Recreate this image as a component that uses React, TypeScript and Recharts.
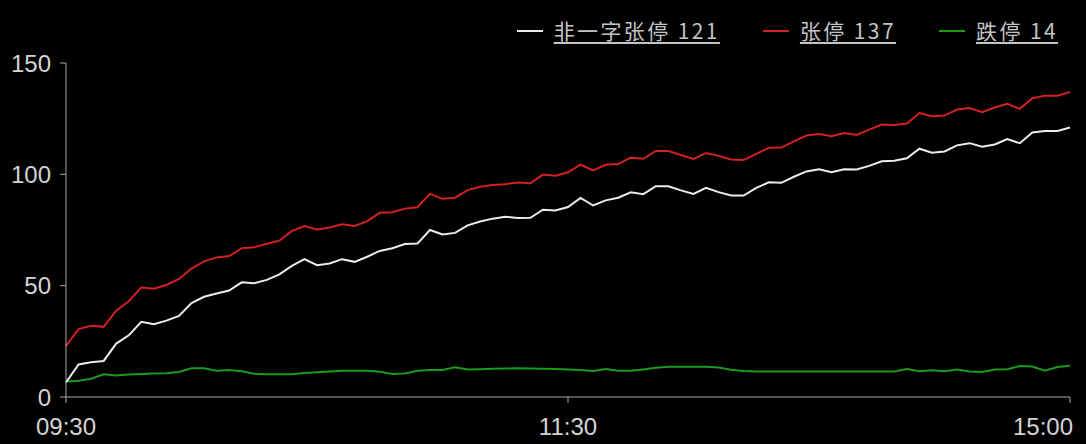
import { LineChart, Line, XAxis, YAxis } from 'recharts';

// sampled every 3 minutes of the trading session (0 = 09:30, 120 = 11:30/13:00, 240 = 15:00)
const STEP = 3;

const whiteValues = [
    6.5, 14.6, 15.6, 16.2, 24, 27.7, 33.8, 32.7, 34.3, 36.4,
    42.2, 45, 46.5, 47.8, 51.5, 51.1, 52.6, 55.1, 58.9, 61.9,
    59.2, 60, 61.9, 60.7, 63, 65.6, 66.8, 68.7, 68.9, 75,
    73, 73.7, 77.1, 78.8, 80.1, 80.9, 80.4, 80.5, 84.1, 83.8,
    85.3, 89.4, 86, 88.3, 89.5, 91.9, 91.1, 94.7, 94.6, 92.8,
    91.2, 93.9, 92, 90.5, 90.5, 93.9, 96.4, 96.2, 98.9, 101.3,
    102.3, 100.9, 102.3, 102.2, 103.8, 105.9, 106.1, 107.2, 111.5, 109.7,
    110.3, 113, 114, 112.4, 113.4, 115.8, 114, 118.8, 119.5, 119.5,
    121,
];

const redValues = [
    23, 30.5, 32, 31.5, 38.8, 43, 49.2, 48.6, 50.3, 53,
    57.7, 60.9, 62.7, 63.3, 66.8, 67.2, 68.8, 70.2, 74.6, 76.8,
    75.2, 76.1, 77.6, 76.8, 79, 82.7, 83, 84.6, 85.2, 91.2,
    89, 89.5, 92.9, 94.4, 95.2, 95.6, 96.3, 96, 99.9, 99.4,
    100.9, 104.4, 101.8, 104.3, 104.6, 107.5, 107, 110.5, 110.5, 108.7,
    106.9, 109.6, 108.3, 106.7, 106.4, 109.2, 111.9, 112, 114.8, 117.4,
    118.1, 117.1, 118.6, 117.7, 120.1, 122.4, 122.2, 122.8, 127.5, 126.1,
    126.4, 129.1, 129.8, 127.9, 130, 131.7, 129.4, 134.2, 135.3, 135.3,
    137,
];

const greenValues = [
    7, 7.3, 8.2, 10.2, 9.7, 10.1, 10.3, 10.5, 10.7, 11.2,
    12.9, 12.9, 11.8, 12.1, 11.6, 10.4, 10.2, 10.2, 10.2, 10.8,
    11.1, 11.5, 11.8, 11.8, 11.8, 11.3, 10.3, 10.6, 11.8, 12.1,
    12.1, 13.4, 12.4, 12.5, 12.7, 12.8, 12.9, 12.8, 12.7, 12.6,
    12.4, 12.1, 11.7, 12.6, 11.8, 11.8, 12.4, 13.1, 13.6, 13.6,
    13.6, 13.6, 13.2, 12.2, 11.7, 11.5, 11.5, 11.5, 11.5, 11.5,
    11.5, 11.4, 11.4, 11.4, 11.4, 11.4, 11.5, 12.6, 11.6, 12,
    11.6, 12.4, 11.5, 11.2, 12.3, 12.5, 13.9, 13.7, 11.8, 13.5,
    14,
];

const yTicks = [0, 50, 100, 150];
const xTicks = [0, 120, 240];

const legendItems = [
    { key: 'white', label: '非一字张停 121', color: '#ececec' },
    { key: 'red', label: '张停 137', color: '#d42020' },
    { key: 'green', label: '跌停 14', color: '#1c9a1c' },
];

const data = whiteValues.map((v, i) => ({
    m: i * STEP,
    white: v,
    red: redValues[i],
    green: greenValues[i],
}));

function timeLabel(m: number) {
    const t = m <= 120 ? 9 * 60 + 30 + m : 13 * 60 + (m - 120);
    const h = Math.floor(t / 60);
    const mm = t % 60;
    return `${String(h).padStart(2, '0')}:${String(mm).padStart(2, '0')}`;
}

const AXIS = '#a8a8a8';
const TEXT = '#d4d4d4';
const LATIN = '"Liberation Sans", Arial, sans-serif';

function TimeTick(props: any) {
    const { x, y, payload } = props;
    const last = payload.value === 240;
    return (
        <text
            x={last ? x + 3 : x}
            y={y}
            dy="0.71em"
            textAnchor={last ? 'end' : 'middle'}
            fill={TEXT}
            fontSize={24}
            fontFamily={LATIN}
        >
            {timeLabel(payload.value)}
        </text>
    );
}

export default function App() {
    return (
        <div style={{ position: 'fixed', left: 0, top: 0, width: 1086, height: 444, background: '#000' }}>
            <LineChart
                width={1086}
                height={444}
                data={data}
                margin={{ top: 63, right: 16, bottom: 0, left: 0 }}
            >
                <XAxis
                    dataKey="m"
                    type="number"
                    domain={[0, 240]}
                    ticks={xTicks}
                    height={47}
                    stroke={AXIS}
                    tickSize={6}
                    tickMargin={15}
                    tick={<TimeTick />}
                    interval={0}
                />
                <YAxis
                    domain={[0, 150]}
                    ticks={yTicks}
                    width={66}
                    stroke={AXIS}
                    tickSize={6}
                    tickMargin={9}
                    tick={{ fill: TEXT, fontSize: 24, fontFamily: LATIN }}
                    interval={0}
                />
                <Line dataKey="green" stroke="#1c9a1c" strokeWidth={2} dot={false} isAnimationActive={false} />
                <Line dataKey="white" stroke="#ececec" strokeWidth={2} dot={false} isAnimationActive={false} />
                <Line dataKey="red" stroke="#d42020" strokeWidth={2} dot={false} isAnimationActive={false} />
            </LineChart>

            <div
                style={{
                    position: 'absolute',
                    top: 20,
                    right: 28,
                    display: 'flex',
                    gap: 43,
                    alignItems: 'center',
                }}
            >
                {legendItems.map(item => (
                    <div key={item.key} style={{ display: 'flex', alignItems: 'center' }}>
                        <div style={{ width: 26, height: 2, background: item.color, marginRight: 11 }} />
                        <span
                            style={{
                                color: '#c4c4c4',
                                fontFamily: '"Noto Sans CJK SC", sans-serif',
                                fontSize: 21,
                                lineHeight: '21px',
                                letterSpacing: 2.4,
                                textDecoration: 'underline',
                                textUnderlineOffset: 3,
                                whiteSpace: 'nowrap',
                            }}
                        >
                            {item.label}
                        </span>
                    </div>
                ))}
            </div>
        </div>
    );
}
